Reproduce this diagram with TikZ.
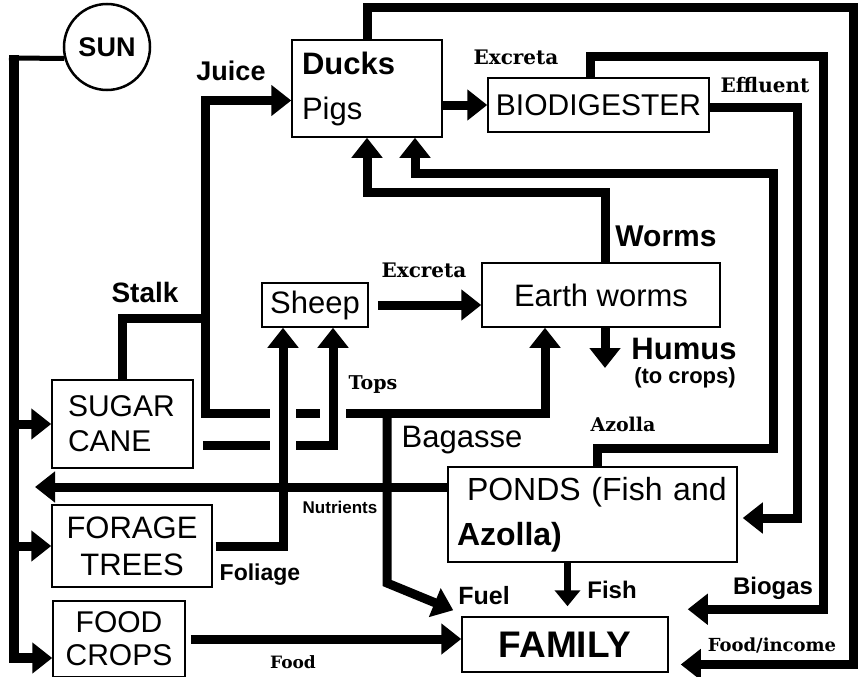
\documentclass[tikz,border=0pt]{standalone}
\usepackage{fontspec}
\setmainfont{Liberation Sans}
\newfontfamily\slabfont{DejaVu Serif}
\usetikzlibrary{arrows.meta}

\tikzset{
  box/.style={draw, line width=1.5pt, inner sep=0pt},
  flow/.style={line width=9pt, -{Triangle[length=20pt,width=30pt]}},
  link/.style={line width=9pt},
  gap/.style={draw=white, line width=26pt},
  lbl/.style={inner sep=0pt, font=\bfseries\fontsize{#1}{#1}\selectfont},
  slab/.style={inner sep=0pt, font=\slabfont\bfseries\fontsize{#1}{#1}\selectfont},
}

\begin{document}
\begin{tikzpicture}[x=1pt, y=-1pt]
  \useasboundingbox (0,0) rectangle (862,677);

  % boxes
  \node[draw, circle, line width=2.5pt, minimum size=86pt, inner sep=0pt,
        font=\bfseries\fontsize{27}{27}\selectfont] (sun) at (107,47) {SUN};
  \node[box, minimum width=150pt, minimum height=97pt, text width=130pt, align=left,
        font=\fontsize{31}{45}\selectfont] (duck) at (367,88.5) {\textbf{Ducks}\\Pigs};
  \node[box, minimum width=221pt, minimum height=54pt,
        font=\fontsize{30}{30}\selectfont] (bio) at (598.5,105) {BIODIGESTER};
  \node[box, minimum width=106pt, minimum height=44pt,
        font=\fontsize{31}{31}\selectfont] (sheep) at (315,305) {Sheep};
  \node[box, minimum width=238pt, minimum height=64pt,
        font=\fontsize{31}{31}\selectfont] (worms) at (601,295) {Earth worms};
  \node[box, minimum width=141pt, minimum height=88pt, text width=109pt, align=left,
        font=\fontsize{30}{35}\selectfont] (cane) at (122.5,424) {SUGAR\\CANE};
  \node[box, minimum width=160pt, minimum height=82pt, align=center,
        font=\fontsize{31}{37}\selectfont] (forage) at (132,546) {FORAGE\\TREES};
  \node[box, minimum width=132pt, minimum height=76pt, align=center,
        font=\fontsize{30}{33}\selectfont] (crops) at (119,639) {FOOD\\CROPS};
  \node[box, minimum width=289pt, minimum height=95pt, text width=271pt, align=left,
        font=\fontsize{32}{45}\selectfont] (ponds) at (592.5,514.5)
        {\hspace{10pt}PONDS (Fish and\\\textbf{Azolla)}};
  \node[box, minimum width=206pt, minimum height=55pt,
        font=\bfseries\fontsize{37}{37}\selectfont] (family) at (565,644.5) {FAMILY};

  % bends and free ends
  \coordinate (sunbus) at (14,58);
  \coordinate (stalk) at (205,318);
  \coordinate (bag) at (387,413);
  \coordinate (top) at (333,445);
  \coordinate (fol) at (283,547);
  \coordinate (cut1) at (top |- bag);
  \coordinate (cut2) at (fol |- bag);
  \coordinate (nutend) at (35,487);
  \coordinate (humus) at (605,368);
  \coordinate (wrm) at (605,192);
  \coordinate (az1) at (773,448);
  \coordinate (az2) at (773,173);
  \coordinate (out1) at (853,8);
  \coordinate (gas) at (823,57);
  \coordinate (eff) at (797,107);
  \coordinate (fishtop) at (567.5,562);

  % sun
  \draw[line width=5pt] (sun.195) -- ([xshift=-5pt]sunbus);
  \draw[flow, line width=10pt] ([yshift=2.5pt]sunbus) |- ([yshift=-19pt]crops.west);
  \draw[flow] (sunbus |- cane.west) -- (cane.west);
  \draw[flow] (sunbus |- forage.west) -- (forage.west);

  % sugar cane
  \draw[link] (cane.north) |- (stalk);
  \draw[flow] (stalk) |- ([yshift=-12pt]duck.west);
  \draw[flow] (stalk) |- (bag) -| ([xshift=-56pt]worms.south);
  \draw[flow] (bag) -- ++(0,170) -- ([shift={(-8pt,6pt)}]family.north west);
  \draw[gap] ([yshift=14pt]cut1) -- ([yshift=-12pt]cut1);
  \draw[flow] ([shift={(9pt,-21pt)}]cane.east) -| ([xshift=18pt]sheep.south);
  \draw[gap] ([yshift=16pt]cut2) -- ([yshift=-46pt]cut2);
  \draw[flow] ([xshift=3pt]forage.east) -| ([xshift=-32pt]sheep.south);
  \draw[flow] ([xshift=5pt]crops.east) -- (crops.east -| family.west);

  % animals
  \draw[flow] (duck.east |- bio) -- (bio.west);
  \draw[flow] ([xshift=9pt]sheep.east) -- (sheep.east -| worms.west);
  \draw[flow] (worms.south -| humus) -- (humus);
  \draw[flow] (worms.north -| wrm) -- (wrm) -| (duck.south);

  % loops round the right
  \draw[flow] ([xshift=4.5pt]ponds.north) |- (az1) -- (az2) -| ([xshift=48pt]duck.south);
  \draw[flow] (duck.north) |- (out1) |- ([shift={(12pt,-20pt)}]family.east);
  \draw[flow] ([xshift=-8pt]bio.north) |- (gas) |- ([shift={(19pt,7pt)}]family.north east);
  \draw[flow] (bio.east |- eff) -- (eff) |- ([shift={(5pt,-3.5pt)}]ponds.east);

  % ponds
  \draw[flow] (nutend -| ponds.west) -- (nutend);
  \draw[flow, line width=7pt, -{Triangle[length=16pt,width=25pt]}, shorten >=10pt]
    (fishtop) -- (fishtop |- family.north);

  % labels
  \node[lbl=27] (juice) at (231,71) {Juice};
  \node[lbl=28] (stalklbl) at (145,292) {Stalk};
  \node[slab=20] (excr1) at (516,57) {Excreta};
  \node[slab=20] (effl) at (765,85) {Effluent};
  \node[lbl=30] (wormlbl) at (666,236) {Worms};
  \node[slab=20] (excr2) at (424,270) {Excreta};
  \node[lbl=31] (humuslbl) at (684,349) {Humus};
  \node[lbl=22] (tocrops) at (685,378) {(to crops)};
  \node[slab=19] (tops) at (373,385) {Tops};
  \node[inner sep=0pt, font=\fontsize{31}{31}\selectfont] (bagasse) at (462,440) {Bagasse};
  \node[slab=19] (azolla) at (623,424) {Azolla};
  \node[lbl=17] (nutr) at (340,507) {Nutrients};
  \node[lbl=23] (foliage) at (260,575) {Foliage};
  \node[lbl=25] (fuel) at (484,596) {Fuel};
  \node[lbl=24] (fish) at (612,590) {Fish};
  \node[lbl=24] (biogas) at (773,588) {Biogas};
  \node[slab=17] (food) at (293,662) {Food};
  \node[slab=18] (income) at (772,645) {Food/income};
\end{tikzpicture}
\end{document}
